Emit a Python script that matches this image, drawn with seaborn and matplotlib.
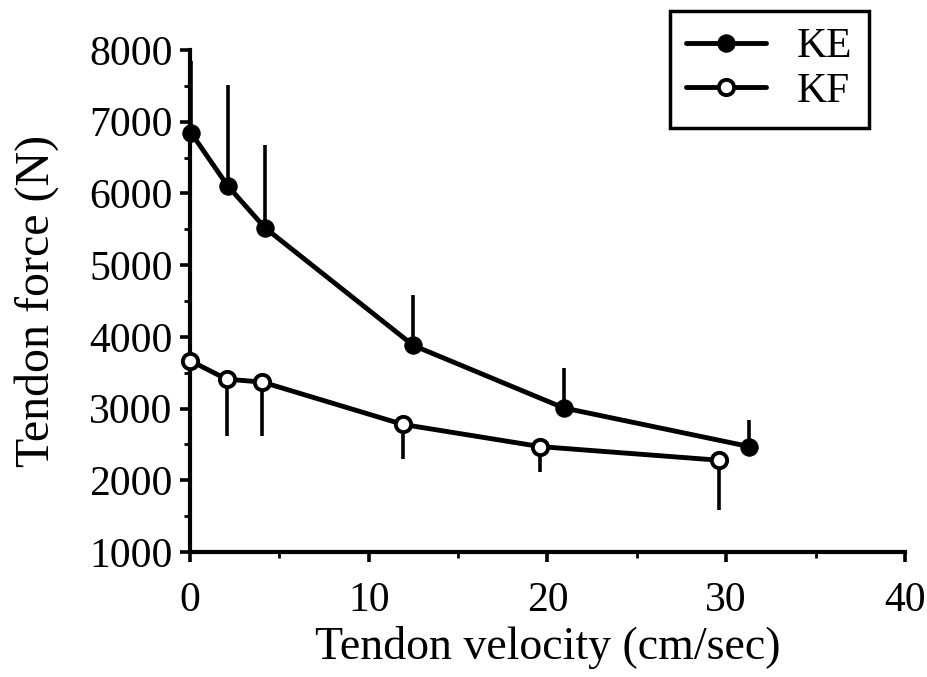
import matplotlib
matplotlib.use("Agg")
import matplotlib.pyplot as plt
import seaborn as sns
import pandas as pd
from matplotlib.ticker import MultipleLocator

# Data
ke_velocity = [0.05, 2.1, 4.2, 12.5, 20.9, 31.3]
ke_force = [6850, 6110, 5520, 3880, 3010, 2470]
ke_err_up = [1000, 1400, 1160, 710, 560, 370]

kf_velocity = [0.0, 2.05, 4.05, 11.9, 19.6, 29.6]
kf_force = [3670, 3410, 3370, 2780, 2470, 2280]
kf_err_down = [0, 790, 750, 480, 350, 700]

series_names = ["KE", "KF"]

sns.set_style("ticks")
plt.rcParams["font.family"] = ["Liberation Serif", "DejaVu Serif"]
plt.rcParams["text.color"] = "black"
plt.rcParams["axes.labelcolor"] = "black"

df = pd.concat([
    pd.DataFrame({"velocity": ke_velocity, "force": ke_force, "series": series_names[0]}),
    pd.DataFrame({"velocity": kf_velocity, "force": kf_force, "series": series_names[1]}),
])

fig = plt.figure(figsize=(9.28, 6.77), dpi=100)
ax = fig.add_axes([0.2047, 0.1846, 0.7705, 0.7415])

# error bars (one-sided)
ax.vlines(ke_velocity, ke_force, [f + e for f, e in zip(ke_force, ke_err_up)],
          color="black", lw=2.6, zorder=2)
ax.vlines(kf_velocity, [f - e for f, e in zip(kf_force, kf_err_down)], kf_force,
          color="black", lw=2.6, zorder=2)

sns.lineplot(data=df[df.series == "KE"], x="velocity", y="force", ax=ax,
             color="black", linewidth=3.5, marker="o", markersize=12.5,
             markerfacecolor="black", markeredgecolor="black",
             label="KE", zorder=3, sort=False, clip_on=False)
sns.lineplot(data=df[df.series == "KF"], x="velocity", y="force", ax=ax,
             color="black", linewidth=3.5, marker="o", markersize=11,
             markerfacecolor="white", markeredgecolor="black", markeredgewidth=2.8,
             label="KF", zorder=3, sort=False, clip_on=False)

ax.set_xlim(0, 40)
ax.set_ylim(1000, 8000)
ax.xaxis.set_major_locator(MultipleLocator(10))
ax.xaxis.set_minor_locator(MultipleLocator(5))
ax.yaxis.set_major_locator(MultipleLocator(1000))
ax.yaxis.set_minor_locator(MultipleLocator(500))
ax.tick_params(which="major", length=7.5, width=2.6, labelsize=30, colors="black", pad=5)
ax.tick_params(axis="x", which="major", pad=14)
ax.tick_params(which="minor", length=4, width=2.0, colors="black")
for s in ["top", "right"]:
    ax.spines[s].set_visible(False)
for s in ["left", "bottom"]:
    ax.spines[s].set_linewidth(3)
    ax.spines[s].set_color("black")

ax.set_xlabel("Tendon velocity (cm/sec)", fontsize=33, labelpad=4, color="black")
ax.set_ylabel("Tendon force (N)", fontsize=34.5, labelpad=22, color="black")

leg = ax.legend(loc="upper right", bbox_to_anchor=(0.9497, 1.0777), fontsize=30,
                frameon=True, fancybox=False, edgecolor="black", handlelength=1.9,
                borderpad=0.4, labelspacing=0.15, handletextpad=0.75,
                borderaxespad=0, framealpha=1, labelcolor="black")
leg.get_frame().set_linewidth(2.5)

fig.savefig("out.png", dpi=100)
